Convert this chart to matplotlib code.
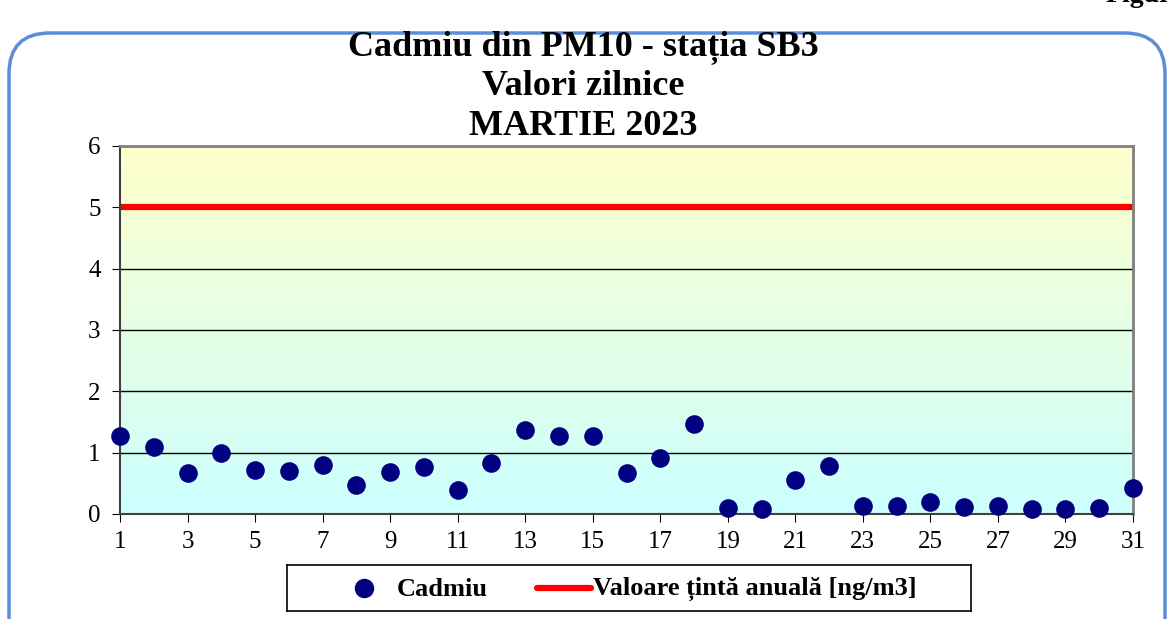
import matplotlib.pyplot as plt
import numpy as np
from matplotlib.patches import FancyBboxPatch

days = list(range(1, 32))
cadmiu = [1.27, 1.09, 0.67, 1.00, 0.72, 0.70, 0.80, 0.47, 0.68, 0.77,
          0.39, 0.83, 1.37, 1.27, 1.27, 0.67, 0.91, 1.47, 0.10, 0.08,
          0.55, 0.78, 0.13, 0.13, 0.20, 0.11, 0.13, 0.08, 0.08, 0.10, 0.42]
tinta = [5] * len(days)
xticks = list(range(1, 32, 2))
yticks = [0, 1, 2, 3, 4, 5, 6]

plt.rcParams['font.family'] = ['Liberation Serif', 'DejaVu Serif']

W, H = 1167, 619
fig = plt.figure(figsize=(W / 100, H / 100), dpi=100)
fig.patch.set_facecolor('white')

# rounded blue frame
frame = FancyBboxPatch((9 / W, -0.2), (1165 - 9) / W, (H - 33) / H + 0.2,
                       boxstyle="round,pad=0,rounding_size=0.035",
                       transform=fig.transFigure, fill=False,
                       edgecolor='#5B8ED6', linewidth=2.5, zorder=0,
                       mutation_aspect=W / H)
fig.patches.append(frame)

fig.text(1106 / W, 1 - 2 / H, "Figura", ha='left', va='baseline', fontsize=20,
         fontweight='bold')

ax = fig.add_axes([120 / W, 1 - 514 / H, (1133 - 120) / W, (514 - 146) / H])

# yellow to cyan background
grad = np.linspace(0, 1, 256).reshape(-1, 1)
top = np.array([1.0, 1.0, 0.80])
bot = np.array([0.80, 1.0, 1.0])
img = top * (1 - grad[..., None]) + bot * grad[..., None]
ax.imshow(img, extent=(1, 31, 0, 6), aspect='auto', zorder=0)

for y in yticks[1:-1]:
    ax.axhline(y, color='black', linewidth=1, zorder=1)

ax.plot(days, tinta, color='#FF0000', linewidth=4.5, zorder=2,
        solid_capstyle='butt')
ax.scatter(days, cadmiu, s=180, color='#000080', zorder=3, clip_on=False,
           linewidths=0)

ax.set_xlim(1, 31)
ax.set_ylim(0, 6)
ax.set_xticks(xticks)
ax.set_yticks(yticks)
ax.tick_params(axis='both', direction='out', length=6, labelsize=18, color='black')
ax.tick_params(axis='x', pad=6)
ax.tick_params(axis='y', pad=8)
ax.spines['top'].set_color('#808080')
ax.spines['right'].set_color('#808080')
ax.spines['top'].set_linewidth(2)
ax.spines['right'].set_linewidth(2)
ax.spines['left'].set_color('#404040')
ax.spines['bottom'].set_color('#404040')
ax.spines['left'].set_linewidth(1.5)
ax.spines['bottom'].set_linewidth(1.5)

title_lines = ["Cadmiu din PM10 - stația SB3", "Valori zilnice", "MARTIE 2023"]
for txt, yb in zip(title_lines, [55, 95, 135]):
    fig.text(0.5, 1 - yb / H, txt, ha='center', va='baseline',
             fontsize=26, fontweight='bold')

# legend box drawn in its own axes
lax = fig.add_axes([287 / W, 1 - 611 / H, 684 / W, 46 / H])
lax.set_xlim(0, 684)
lax.set_ylim(0, 46)
lax.set_xticks([])
lax.set_yticks([])
lax.set_facecolor('white')
for s in lax.spines.values():
    s.set_color('black')
    s.set_linewidth(1.2)
lax.plot([77], [23], marker='o', markersize=13, color='#000080', linestyle='none')
lax.text(110, 22, "Cadmiu", va='center', ha='left', fontsize=19, fontweight='bold')
lax.plot([250, 304], [23, 23], color='#FF0000', linewidth=4.5, solid_capstyle='round')
lax.text(306, 22, "Valoare țintă anuală [ng/m3]", va='center', ha='left',
         fontsize=19, fontweight='bold')

fig.savefig('out.png', dpi=100)
